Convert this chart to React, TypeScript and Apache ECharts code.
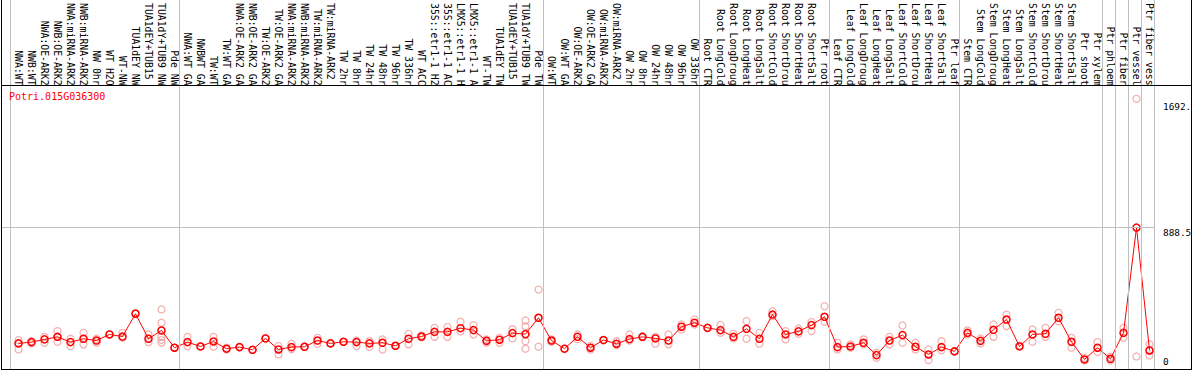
import React, { useEffect, useRef } from "react";
import * as echarts from "echarts";

const FONT = "'DejaVu Sans Mono', monospace";

const geneName = "Potri.015G036300";

const categories = [
  "NWA:WT", "NWB:WT", "NWA:OE-ARK2", "NWB:OE-ARK2", "NWA:miRNA-ARK2", "NWB:miRNA-ARK2",
  "NW 0hr", "WT H2O", "WT-NW", "TUA1dEY NW", "TUA1dEY+TUB15 NW", "TUA1dY+TUB9 NW", "Pde NW",
  "NWA:WT GA", "NWBWT GA", "TW:WT", "TW:WT GA", "NWA:OE-ARK2 GA", "NWB:OE-ARK2 GA",
  "TW:OE-ARK2", "TW:OE-ARK2 GA", "NWA:miRNA-ARK2 GA", "NWB:miRNA-ARK2 GA", "TW:miRNA-ARK2",
  "TW:miRNA-ARK2 GA", "TW 2hr", "TW 8hr", "TW 24hr", "TW 48hr", "TW 96hr", "TW 336hr",
  "WT ACC", "35S::etr1-1 H2O", "35S::etr1-1 ACC", "LMX5::etr1-1 H2O", "LMX5::etr1-1 ACC",
  "WT-TW", "TUA1dEY TW", "TUA1dEY+TUB15 TW", "TUA1dY+TUB9 TW", "Pde TW",
  "OW:WT", "OW:WT GA", "OW:OE-ARK2", "OW:OE-ARK2 GA", "OW:miRNA-ARK2", "OW:miRNA-ARK2 GA",
  "OW 2hr", "OW 8hr", "OW 24hr", "OW 48hr", "OW 96hr", "OW 336hr",
  "Root CTR", "Root LongCold", "Root LongDrought", "Root LongHeat", "Root LongSalt",
  "Root ShortCold", "Root ShortDrought", "Root ShortHeat", "Root ShortSalt", "Ptr root",
  "Leaf CTR", "Leaf LongCold", "Leaf LongDrought", "Leaf LongHeat", "Leaf LongSalt",
  "Leaf ShortCold", "Leaf ShortDrought", "Leaf ShortHeat", "Leaf ShortSalt", "Ptr leaf",
  "Stem CTR", "Stem LongCold", "Stem LongDrought", "Stem LongHeat", "Stem LongSalt",
  "Stem ShortCold", "Stem ShortDrought", "Stem ShortHeat", "Stem ShortSalt", "Ptr shoot",
  "Ptr xylem", "Ptr phloem", "Ptr fiber", "Ptr vessel", "Ptr fiber vessel",
];

const means = [
  166, 174, 191, 207, 174, 195, 184, 222, 209, 351, 195, 247, 139,
  174, 147, 178, 133, 143, 126, 197, 128, 143, 145, 184, 166, 176, 174, 166, 170, 151, 195,
  209, 238, 238, 261, 249, 182, 189, 230, 224, 326,
  184, 133, 207, 139, 187, 164, 193, 207, 197, 184, 270, 295,
  263, 249, 207, 257, 195, 346, 222, 241, 280, 332,
  143, 147, 170, 93, 184, 218, 145, 97, 143, 116,
  232, 182, 251, 315, 147, 222, 226, 326, 176, 66, 139,
  70, 232, 888.5, 122,
];

const replicates = [
  [187, 128, 166], [180, 166], [207, 170], [243, 176, 207], [195, 149], [232, 160, 195],
  [195, 170], [222, 222], [232, 201], [351, 357], [222, 174, 195], [378, 295, 247, 207, 187, 170],
  [139, 139],
  [207, 149], [147, 147], [207, 145], [139, 128], [143, 143], [126, 126], [197, 197],
  [149, 97], [164, 130], [145, 145], [201, 164], [166, 166], [176, 176], [184, 149],
  [180, 145], [191, 128], [151, 151], [226, 160], [216, 203], [263, 207], [268, 207],
  [301, 241], [280, 222], [191, 170], [201, 170], [255, 197], [309, 272, 222, 180, 133],
  [502, 326, 145],
  [191, 176], [133, 133], [222, 192], [149, 128], [187, 187], [180, 155], [222, 184],
  [211, 203], [207, 164], [222, 160], [284, 253], [315, 284],
  [263, 263], [280, 232], [226, 197], [305, 195], [232, 164], [367, 336], [243, 191],
  [259, 226], [299, 243], [398, 301],
  [170, 128], [160, 139], [191, 160], [108, 76], [207, 160], [278, 170], [170, 128],
  [128, 62], [180, 124], [118, 118],
  [247, 222], [197, 166], [284, 207], [346, 274], [151, 151], [253, 176], [263, 207],
  [357, 305], [201, 139], [76, 60], [174, 112],
  [83, 60], [263, 201], [1692.5, 84.5], [160, 91, 122],
];

// index of the first category of each group (last entry = end)
const groupStarts = [0, 13, 41, 53, 63, 73, 84, 85, 86, 87, 88];

const yTickValues = [0, 888.5, 1692.5];
const yTickLabels = ["0", "888.5", "1692.5"];

// the header band only has room for this many characters
const MAX_LABEL_CHARS = 14;
const MAX_TICK_CHARS = 5;

export default function App() {
  const ref = useRef<HTMLDivElement>(null);

  useEffect(() => {
    if (!ref.current) return;
    const chart = echarts.init(ref.current, undefined, { renderer: "svg" });

    const repData: number[][] = [];
    replicates.forEach((reps, k) => reps.forEach((v) => repData.push([k, v])));

    const labelPads = [
      { verticalAlign: "bottom", padding: [0, 0, 4, 0] },
      { verticalAlign: "top", padding: [0, 0, 0, 0] },
      { verticalAlign: "top", padding: [3, 0, 0, 0] },
    ];

    const markData: any[] = [
      ...groupStarts.map((s) => ({ xAxis: s - 8 / 13 })),
      ...yTickValues.map((v, i) => ({
        yAxis: v,
        lineStyle: { color: i === 1 ? "#c0c0c0" : "rgba(0,0,0,0)", width: 1 },
        label: {
          show: true,
          position: "end",
          distance: 8,
          formatter: yTickLabels[i].slice(0, MAX_TICK_CHARS),
          color: "#000",
          fontFamily: FONT,
          fontSize: 9.4,
          align: "left",
          ...labelPads[i],
        },
      })),
    ];

    const option: any = {
      animation: false,
      backgroundColor: "#ffffff",
      title: {
        text: geneName,
        left: 9,
        top: 91,
        padding: 0,
        textStyle: { color: "#ff0000", fontFamily: FONT, fontSize: 10, fontWeight: "normal" },
      },
      grid: [
        { left: 1, top: 0, width: 1154, height: 370.6 },
        { left: 12, top: 85, width: 1144, height: 10 },
      ],
      xAxis: [
        { type: "value", gridIndex: 0, min: -1.346, max: 87.423, show: false },
        {
          type: "category",
          gridIndex: 1,
          position: "top",
          data: categories,
          boundaryGap: true,
          axisLine: { show: false, onZero: false },
          axisTick: { show: false },
          splitLine: { show: false },
          axisLabel: {
            interval: 0,
            rotate: 90,
            margin: 2,
            fontFamily: FONT,
            fontSize: 9.8,
            color: "#000",
            formatter: (s: string) => s.slice(0, MAX_LABEL_CHARS),
          },
        },
      ],
      yAxis: [
        { type: "value", gridIndex: 0, min: 0, max: 2309, show: false },
        { type: "value", gridIndex: 1, show: false },
      ],
      series: [
        {
          type: "scatter",
          xAxisIndex: 0,
          yAxisIndex: 0,
          z: 1,
          symbol: "circle",
          symbolSize: 7,
          silent: true,
          itemStyle: { color: "rgba(0,0,0,0)", borderColor: "#f09a9a", borderWidth: 1.2 },
          data: repData,
          markLine: {
            silent: true,
            symbol: ["none", "none"],
            animation: false,
            lineStyle: { color: "#c0c0c0", width: 1, type: "solid" },
            label: { show: false },
            data: markData,
          },
        },
        {
          type: "line",
          xAxisIndex: 0,
          yAxisIndex: 0,
          z: 2,
          symbol: "circle",
          symbolSize: 7,
          showSymbol: true,
          silent: true,
          lineStyle: { color: "#ff0000", width: 1 },
          itemStyle: { color: "rgba(0,0,0,0)", borderColor: "#ff0000", borderWidth: 1.5 },
          data: means.map((v, k) => [k, v]),
        },
      ],
      graphic: [
        { type: "line", z: 100, shape: { x1: 1.5, y1: 0, x2: 1.5, y2: 369.5 }, style: { stroke: "#000", lineWidth: 1 } },
        { type: "line", z: 100, shape: { x1: 1191.5, y1: 0, x2: 1191.5, y2: 369.5 }, style: { stroke: "#000", lineWidth: 1 } },
        { type: "line", z: 100, shape: { x1: 1, y1: 85.5, x2: 1192, y2: 85.5 }, style: { stroke: "#000", lineWidth: 1 } },
        { type: "line", z: 100, shape: { x1: 1, y1: 369.5, x2: 1192, y2: 369.5 }, style: { stroke: "#000", lineWidth: 1 } },
      ],
    };

    chart.setOption(option);
    return () => chart.dispose();
  }, []);

  return (
    <div
      ref={ref}
      style={{ position: "absolute", left: 0, top: 0, width: 1194, height: 370 }}
    />
  );
}
